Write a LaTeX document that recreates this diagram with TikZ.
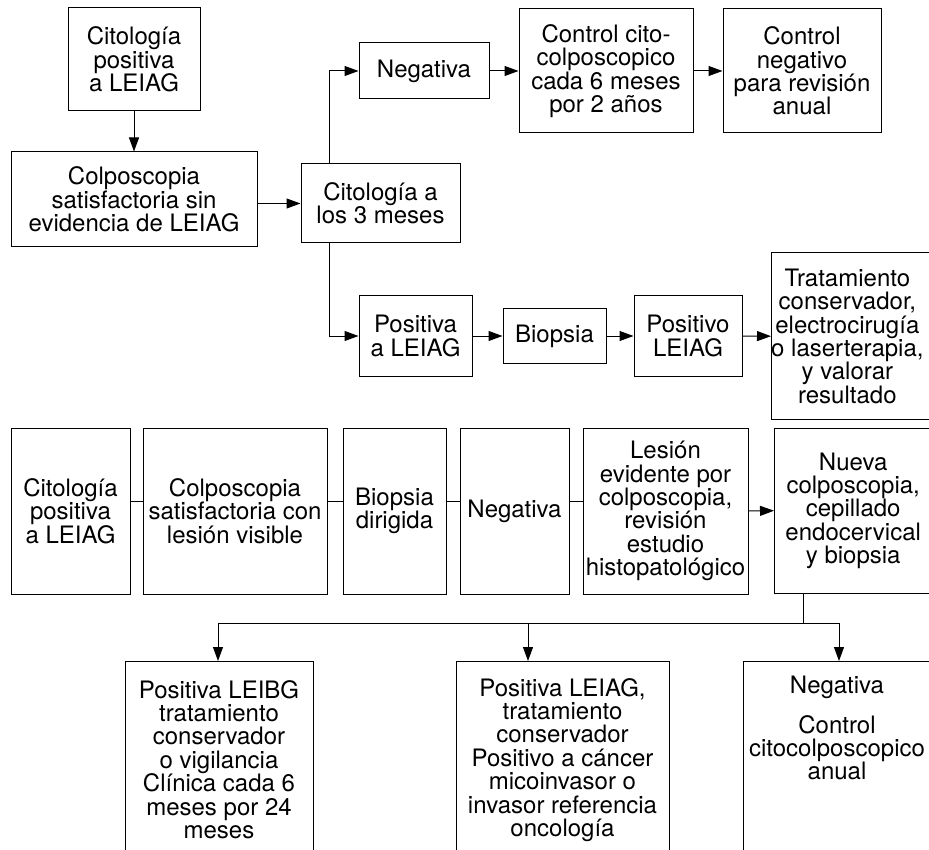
\documentclass[tikz,border=0pt]{standalone}
\usepackage{fontspec}
\setmainfont{TeX Gyre Heros}
\usetikzlibrary{arrows.meta}
\begin{document}
\begin{tikzpicture}[x=1pt,y=-1pt,
  txt/.style={align=center, inner sep=0pt, font=\fontsize{24}{23.4}\selectfont},
  box/.style={txt, draw, line width=1pt},
  ln/.style={line width=1pt},
  arr/.style={line width=1pt, -{Triangle[length=14pt,width=10pt]}}]
\useasboundingbox (0,0) rectangle (929,850);
% top section
\node[box, minimum width=132pt, minimum height=103pt] (c1) at (134,59.5) {Citología\\positiva\\a LEIAG};
\node[box, minimum width=246pt, minimum height=95pt] (c2) at (134,199.5) {Colposcopia\\satisfactoria sin\\evidencia de LEIAG};
\node[box, minimum width=159pt, minimum height=79pt] (c3) at (380.5,203.5) {Citología a\\los 3 meses};
\node[box, minimum width=130pt, minimum height=56pt] (neg) at (424,71) {Negativa};
\node[box, minimum width=174pt, minimum height=124pt] (ctrl) at (606,71) {Control cito-\\colposcopico\\cada 6 meses\\por 2 años};
\node[box, minimum width=158pt, minimum height=124pt] (ctrlneg) at (802,71) {Control\\negativo\\para revisión\\anual};
\node[box, minimum width=113pt, minimum height=80pt] (pos) at (415.5,336) {Positiva\\a LEIAG};
\node[box, minimum width=103pt, minimum height=55pt] (bio) at (554.5,336) {Biopsia};
\node[box, minimum width=108pt, minimum height=80pt] (posl) at (688,336) {Positivo\\LEIAG};
\node[txt, minimum width=148pt, minimum height=166pt, anchor=north west] (trat) at (771,253) {Tratamiento\\conservador,\\electrocirugía\\o laserterapia,\\y valorar\\resultado};
\draw[ln] (trat.north west) ++(158,0) -- (trat.north west) -- (trat.south west) -- ++(158,0);

\draw[arr] (c1.south) -- (c2.north);
\draw[arr] (c2.east |- c3.west) -- (c3.west);
\draw[arr] ([xshift=29pt]c3.north west) |- (neg.west);
\draw[arr] (neg.east) -- (ctrl.west);
\draw[arr] (ctrl.east) -- (ctrlneg.west);
\draw[arr] ([xshift=29pt]c3.south west) |- (pos.west);
\draw[arr] (pos.east) -- (bio.west);
\draw[arr] (bio.east) -- (posl.west);
\draw[arr] (posl.east) -- (trat.west);

% middle row
\node[box, minimum width=119pt, minimum height=166pt] (A) at (70.5,511) {Citología\\positiva\\a LEIAG};
\node[box, minimum width=184pt, minimum height=166pt] (B) at (235,511) {Colposcopia\\satisfactoria con\\lesión visible};
\node[box, minimum width=103pt, minimum height=166pt] (C) at (394.5,511) {Biopsia\\dirigida};
\node[box, minimum width=109pt, minimum height=166pt] (D) at (514.5,511) {Negativa};
\node[box, minimum width=165pt, minimum height=166pt] (E) at (665.5,511) {Lesión\\evidente por\\colposcopia,\\revisión\\estudio\\histopatológico};
\node[txt, minimum width=158pt, minimum height=165pt, anchor=north west] (F) at (774,428) {Nueva\\colposcopia,\\cepillado\\endocervical\\y biopsia};
\draw[ln] (F.north west) ++(155,0) -- (F.north west) -- (F.south west) -- ++(155,0);

\draw[ln] ([yshift=10pt]A.east) -- ([yshift=10pt]B.west);
\draw[ln] ([yshift=10pt]B.east) -- ([yshift=10pt]C.west);
\draw[ln] ([yshift=10pt]C.east) -- ([yshift=10pt]D.west);
\draw[ln] ([yshift=10pt]D.east) -- ([yshift=10pt]E.west);
\draw[arr] (E.east) -- (F.west);

% bottom row
\coordinate (split) at (803,623);
\coordinate (Gtop) at (218,661);
\coordinate (Htop) at (528,661);
\coordinate (Itop) at (839,661);
\draw[ln] (125,851) -- (125,661) -- (313,661) -- (313,851);
\draw[ln] (456,851) -- (456,661) -- (669,661) -- (669,851);
\draw[ln] (743,851) -- (743,661) -- (930,661);
\node[txt, anchor=north] (G) at (219,680) {Positiva LEIBG\\tratamiento\\conservador\\o vigilancia\\Clínica cada 6\\meses por 24\\meses};
\node[txt, anchor=north] (H) at (562.5,678) {Positiva LEIAG,\\tratamiento\\conservador\\Positivo a cáncer\\micoinvasor o\\invasor referencia\\oncología};
\node[txt, anchor=north] (I) at (837,676) {Negativa\\[16pt]Control\\citocolposcopico\\anual};

\draw[ln] ([xshift=29pt]F.south west) -- (split);
\draw[arr] (split) -| (Gtop);
\draw[arr] (split) -| (Itop);
\draw[arr] (Htop |- split) -- (Htop);
\end{tikzpicture}
\end{document}
